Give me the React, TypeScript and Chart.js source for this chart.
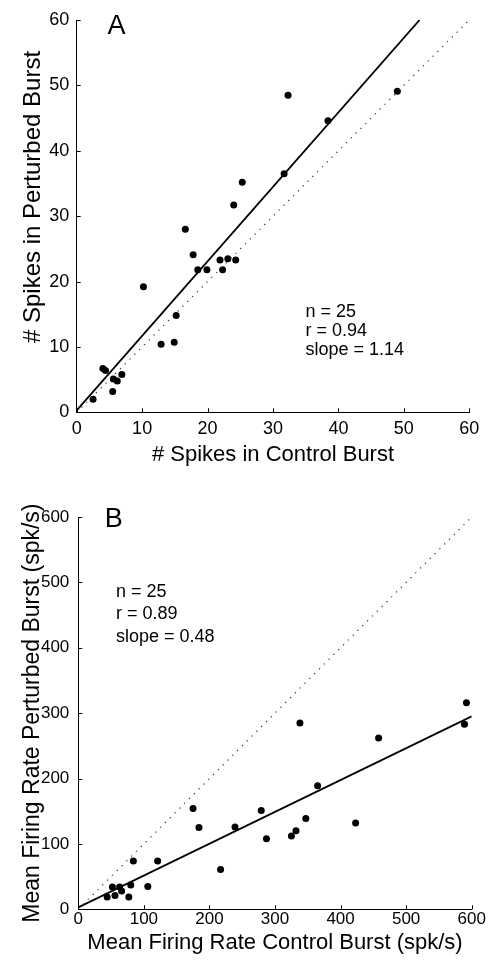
import React, { useEffect, useRef } from "react";
import { Chart, registerables } from "chart.js";

Chart.register(...registerables);

const FONT = "'Liberation Sans', Arial, Helvetica, sans-serif";

// ---------- Panel A: spike counts ----------
const spikesControl = [2.5, 4.0, 4.4, 5.5, 5.6, 6.2, 6.9, 10.2, 12.9, 14.9, 15.2, 16.6, 17.8, 18.5, 19.9, 21.9, 22.3, 23.1, 24.3, 24.0, 25.3, 31.7, 32.3, 38.4, 49.0];
const spikesPerturbed = [2.0, 6.7, 6.4, 3.2, 5.1, 4.8, 5.8, 19.2, 10.4, 10.7, 14.8, 28.0, 24.1, 21.8, 21.8, 23.3, 21.8, 23.5, 23.3, 31.7, 35.2, 36.5, 48.5, 44.6, 49.1];
const spikesFitX = [0, 52.4];
const spikesFitY = [0.3, 60];
const spikesUnityX = [0, 60];
const spikesUnityY = [0, 60];
const spikesTicks = [0, 10, 20, 30, 40, 50, 60];
const spikesStats = ["n = 25", "r = 0.94", "slope = 1.14"];
const spikesXTitle = "# Spikes in Control Burst";
const spikesYTitle = "# Spikes in Perturbed Burst";

// ---------- Panel B: firing rates ----------
const rateControl = [44, 52, 56, 63, 66, 77, 80, 84, 106, 121, 175, 184, 217, 239, 279, 287, 325, 332, 338, 347, 365, 423, 458, 589, 592];
const ratePerturbed = [19, 34, 21, 34, 28, 19, 37, 74, 35, 74, 154, 125, 61, 126, 151, 108, 112, 120, 285, 139, 189, 132, 262, 283, 316];
const rateFitX = [0, 600];
const rateFitY = [3, 295];
const rateUnityX = [0, 600];
const rateUnityY = [0, 600];
const rateTicks = [0, 100, 200, 300, 400, 500, 600];
const rateStats = ["n = 25", "r = 0.89", "slope = 0.48"];
const rateXTitle = "Mean Firing Rate Control Burst (spk/s)";
const rateYTitle = "Mean Firing Rate Perturbed Burst (spk/s)";

const pairs = (xs: number[], ys: number[]) => xs.map((x, i) => ({ x, y: ys[i] }));

const decorPlugin = {
  id: "decor",
  afterDraw(chart: any, _args: any, opts: any) {
    const { ctx, chartArea, scales } = chart;
    ctx.save();
    ctx.strokeStyle = "#000";
    ctx.lineWidth = 1;
    ctx.beginPath();
    scales.x.ticks.forEach((t: any) => {
      const px = Math.round(scales.x.getPixelForValue(t.value)) + 0.5;
      ctx.moveTo(px, chartArea.bottom);
      ctx.lineTo(px, chartArea.bottom - 4);
    });
    scales.y.ticks.forEach((t: any) => {
      const py = Math.round(scales.y.getPixelForValue(t.value)) + 0.5;
      ctx.moveTo(chartArea.left, py);
      ctx.lineTo(chartArea.left + 4, py);
    });
    ctx.stroke();
    ctx.fillStyle = "#000";
    ctx.textAlign = "left";
    ctx.textBaseline = "alphabetic";
    ctx.font = `27px ${FONT}`;
    ctx.fillText(opts.letter, opts.letterX, opts.letterY);
    ctx.font = `18px ${FONT}`;
    (opts.lines as string[]).forEach((s, i) => ctx.fillText(s, opts.statsX, opts.statsY + i * opts.statsGap));
    if (opts.yTitle) {
      ctx.translate(opts.yTitleX, opts.yTitleY);
      ctx.rotate(-Math.PI / 2);
      ctx.font = `${opts.yTitleSize}px ${FONT}`;
      ctx.textAlign = "center";
      ctx.textBaseline = "middle";
      ctx.fillText(opts.yTitle, 0, 0);
    }
    ctx.restore();
  },
};

type PanelParams = {
  xs: number[]; ys: number[];
  fitX: number[]; fitY: number[];
  unityX: number[]; unityY: number[];
  ticks: number[];
  height: number;
  pad: { left: number; right: number; top: number; bottom: number };
  yAxisWidth: number; xAxisHeight: number;
  tickSize: number;
  xTickPad: number; yTickPad: number;
  xTitle: string; xTitlePadBottom: number;
  yTitle?: string; yTitlePadTop?: number;
  decor: any;
};

function makeConfig(p: PanelParams): any {
  const tickFont = { size: p.tickSize, family: FONT };
  return {
    type: "scatter",
    data: {
      datasets: [
        {
          data: pairs(p.unityX, p.unityY),
          showLine: true,
          borderColor: "#333",
          borderWidth: 1.2,
          borderDash: [1.2, 5.6],
          pointRadius: 0,
          fill: false,
        },
        {
          data: pairs(p.fitX, p.fitY),
          showLine: true,
          borderColor: "#000",
          borderWidth: 1.8,
          pointRadius: 0,
          fill: false,
        },
        {
          data: pairs(p.xs, p.ys),
          showLine: false,
          pointRadius: 3.5,
          pointBackgroundColor: "#000",
          pointBorderWidth: 0,
          borderColor: "#000",
        },
      ],
    },
    options: {
      responsive: false,
      animation: false,
      events: [],
      layout: { padding: p.pad },
      plugins: {
        legend: { display: false },
        tooltip: { enabled: false },
        decor: p.decor,
      },
      scales: {
        x: {
          type: "linear",
          position: "bottom",
          min: p.ticks[0],
          max: p.ticks[p.ticks.length - 1],
          afterBuildTicks: (s: any) => { s.ticks = p.ticks.map((v) => ({ value: v })); },
          afterFit: (s: any) => { s.height = p.xAxisHeight; },
          grid: { display: false, drawTicks: false },
          border: { display: true, color: "#000", width: 1 },
          ticks: { color: "#000", font: tickFont, padding: p.xTickPad, maxRotation: 0 },
          title: {
            display: true,
            text: p.xTitle,
            color: "#000",
            font: { size: 22, family: FONT },
            padding: { top: 0, bottom: p.xTitlePadBottom },
          },
        },
        y: {
          type: "linear",
          position: "left",
          min: p.ticks[0],
          max: p.ticks[p.ticks.length - 1],
          afterBuildTicks: (s: any) => { s.ticks = p.ticks.map((v) => ({ value: v })); },
          afterFit: (s: any) => { s.width = p.yAxisWidth; },
          grid: { display: false, drawTicks: false },
          border: { display: true, color: "#000", width: 1 },
          ticks: { color: "#000", font: tickFont, padding: p.yTickPad },
          title: p.yTitle
            ? {
                display: true,
                text: p.yTitle,
                color: "#000",
                font: { size: 23, family: FONT },
                padding: { top: p.yTitlePadTop, bottom: 0 },
              }
            : { display: false },
        },
      },
    },
    plugins: [decorPlugin],
  };
}

const panelA: PanelParams = {
  xs: spikesControl, ys: spikesPerturbed,
  fitX: spikesFitX, fitY: spikesFitY,
  unityX: spikesUnityX, unityY: spikesUnityY,
  ticks: spikesTicks,
  height: 470,
  pad: { left: 0, right: 19.7, top: 20, bottom: 0 },
  yAxisWidth: 76.7, xAxisHeight: 57.7,
  tickSize: 18,
  xTickPad: 6.4, yTickPad: 7.5,
  xTitle: spikesXTitle, xTitlePadBottom: 2.3,
  decor: {
    letter: "A", letterX: 107.5, letterY: 34.3,
    lines: spikesStats, statsX: 305.5, statsY: 316.5, statsGap: 19,
    yTitle: spikesYTitle, yTitleX: 33.5, yTitleY: 197, yTitleSize: 24,
  },
};

const panelB: PanelParams = {
  xs: rateControl, ys: ratePerturbed,
  fitX: rateFitX, fitY: rateFitY,
  unityX: rateUnityX, unityY: rateUnityY,
  ticks: rateTicks,
  height: 493,
  pad: { left: 0, right: 17.3, top: 47, bottom: 0 },
  yAxisWidth: 78.3, xAxisHeight: 53.7,
  tickSize: 17,
  xTickPad: -0.5, yTickPad: 9,
  xTitle: rateXTitle, xTitlePadBottom: 7,
  yTitle: rateYTitle, yTitlePadTop: 18.6,
  decor: {
    letter: "B", letterX: 104.8, letterY: 56.7,
    lines: rateStats, statsX: 116, statsY: 126.7, statsGap: 22.5,
  },
};

function Panel({ params, top }: { params: PanelParams; top: number }) {
  const ref = useRef<HTMLCanvasElement | null>(null);
  useEffect(() => {
    if (!ref.current) return;
    const chart = new Chart(ref.current, makeConfig(params));
    return () => chart.destroy();
  }, [params]);
  return (
    <canvas
      ref={ref}
      width={489}
      height={params.height}
      style={{ position: "absolute", left: 0, top, width: 489, height: params.height, display: "block" }}
    />
  );
}

export default function App() {
  return (
    <div style={{ position: "fixed", left: 0, top: 0, width: 489, height: 963, background: "#fff", overflow: "hidden" }}>
      <Panel params={panelA} top={0} />
      <Panel params={panelB} top={470} />
    </div>
  );
}
